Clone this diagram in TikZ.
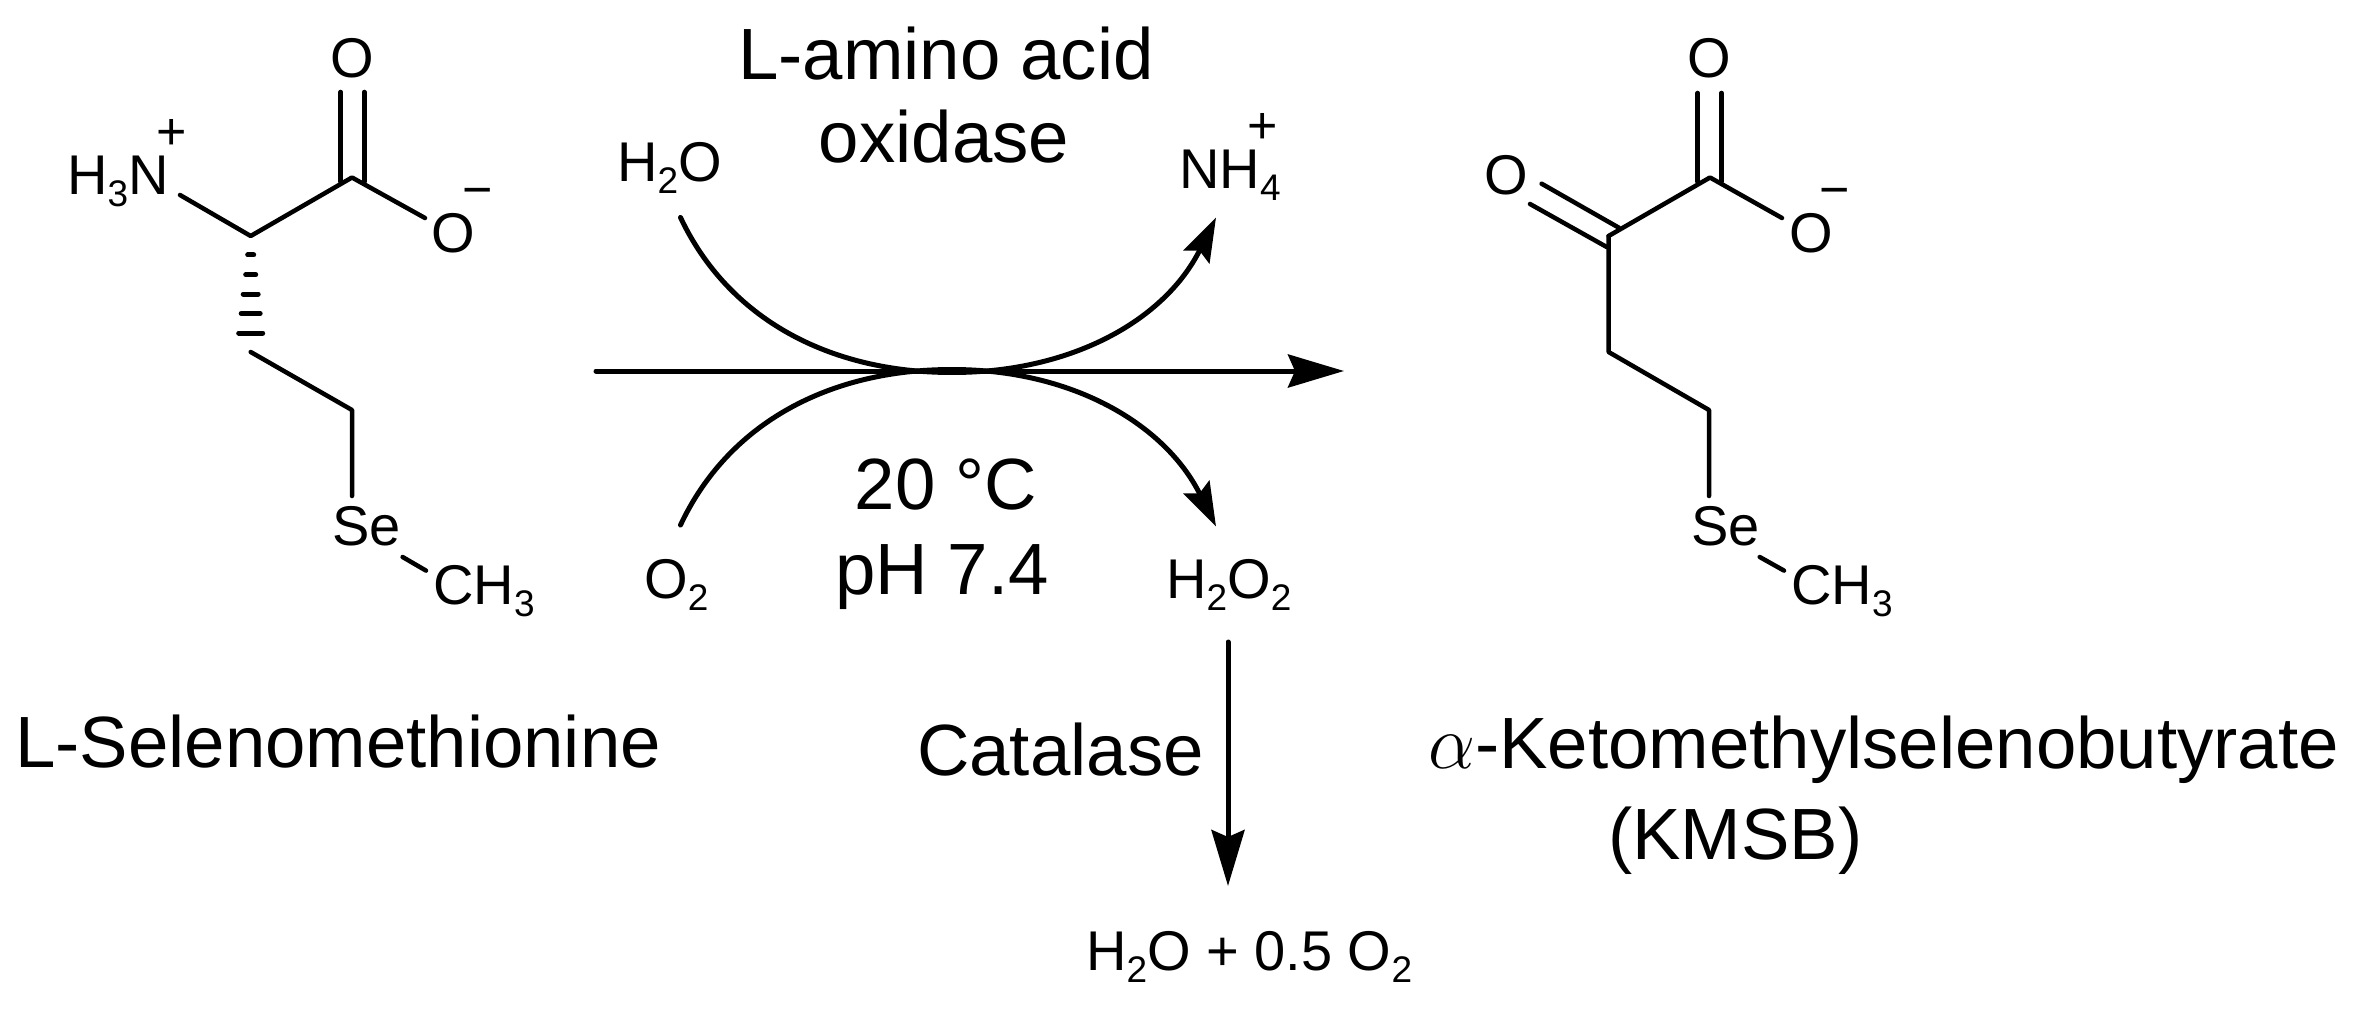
\documentclass[tikz,border=0pt]{standalone}
\usepackage{fontspec}
\setmainfont{Liberation Sans}
\usetikzlibrary{arrows.meta}
\newcommand{\sub}[1]{\raisebox{-12pt}{\fontsize{37}{37}\selectfont #1}}
\tikzset{
  x=1pt,y=-1pt,
  bond/.style={line width=4.5pt,line cap=round,line join=round,black},
  rxn/.style={line width=5pt,line cap=round,black},
  atom/.style={inner sep=0pt,anchor=base west,font=\fontsize{56}{56}\selectfont},
  charge/.style={inner sep=0pt,anchor=base west,font=\fontsize{52}{52}\selectfont},
  label/.style={inner sep=0pt,anchor=base,font=\fontsize{72.6}{72.6}\selectfont},
  smallhead/.style={-{Stealth[length=44pt,width=29pt,inset=7pt]}},
  bighead/.style={-{Stealth[length=56pt,width=33pt,inset=7pt]}}
}
\begin{document}
\begin{tikzpicture}
\useasboundingbox (0,0) rectangle (2354,1011);
\fill[white] (0,0) rectangle (2354,1011);
% left molecule
\coordinate (c1) at (352,177.5);
\coordinate (ca) at (250.7,236);
\coordinate (c3) at (250.7,352);
\coordinate (c4) at (352,410);
\coordinate (nb) at (180,195);
\coordinate (ob) at (425,218);
\coordinate (seb) at (352,496);
\coordinate (dl1) at (340.6,92); \coordinate (dl2) at (340.6,181.6);
\coordinate (dr1) at (364.3,92); \coordinate (dr2) at (364.3,181.6);
\coordinate (ch1) at (402.6,557); \coordinate (ch2) at (426,570.6);
\node[atom] (ltopO) at (330.2,77.5) {O};
\node[atom] (lN) at (67,195) {H\sub{3}N};
\node[charge] (lplus) at (156,150) {+};
\node[atom] (lO) at (431.6,253) {O};
\node[charge] (lminus) at (462,208) {−};
\node[atom] (lSe) at (332,545) {Se};
\node[atom] (lCH) at (433,604) {CH\sub{3}};
\draw[bond] (nb) -- (ca) -- (c1) -- (ob);
\draw[bond] (dl1) -- (dl2);
\draw[bond] (dr1) -- (dr2);
\draw[bond] (c3) -- (c4) -- (seb);
\draw[bond] (ch1) -- (ch2);
\foreach \yy/\ww in {255/3,274.7/5,294/7.5,313.5/9.5,333/12}
  \draw[line width=5pt,line cap=round] (250.7-\ww,\yy) -- (250.7+\ww,\yy);
% right molecule
\coordinate (r1) at (1710,177.5);
\coordinate (ra) at (1608.6,236);
\coordinate (r3) at (1608.6,352);
\coordinate (r4) at (1709,410);
\coordinate (rseb) at (1709,496);
\coordinate (rob) at (1782,218);
\coordinate (rl1) at (1697.7,93); \coordinate (rl2) at (1697.7,181.6);
\coordinate (rr1) at (1721.5,93); \coordinate (rr2) at (1721.5,181.6);
\coordinate (ru1) at (1541.6,183.7); \coordinate (ru2) at (1619,227.8);
\coordinate (rd1) at (1530,204); \coordinate (rd2) at (1606.7,247);
\coordinate (rch1) at (1759.7,557); \coordinate (rch2) at (1784,570.6);
\node[atom] (rtopO) at (1687.2,77.5) {O};
\node[atom] (rleftO) at (1484.6,195) {O};
\node[atom] (rO) at (1789.6,253) {O};
\node[charge] (rminus) at (1819.5,208) {−};
\node[atom] (rSe) at (1691,545) {Se};
\node[atom] (rCH) at (1791,604) {CH\sub{3}};
\draw[bond] (ra) -- (r1) -- (rob);
\draw[bond] (rl1) -- (rl2);
\draw[bond] (rr1) -- (rr2);
\draw[bond] (ru1) -- (ru2);
\draw[bond] (rd1) -- (rd2);
\draw[bond] (ra) -- (r3) -- (r4) -- (rseb);
\draw[bond] (rch1) -- (rch2);
% reaction
\coordinate (astart) at (596,371);
\coordinate (aend) at (1344,371);
\coordinate (mt) at (952,372.5);
\coordinate (mb) at (952,369.5);
\coordinate (wt) at (680.5,217.5);
\coordinate (ot) at (680.5,525);
\coordinate (ntip) at (1216,217.5);
\coordinate (ptip) at (1216,526.5);
\coordinate (vs) at (1228,642);
\coordinate (vt) at (1228,886);
\draw[rxn,bighead] (astart) -- (aend);
\draw[rxn] (wt) .. controls (728,318) and (828,372.5) .. (mt);
\draw[rxn] (ot) .. controls (728,424) and (828,369.5) .. (mb);
\draw[rxn,smallhead] (mt) .. controls (1072,372.5) and (1165,320) .. (ntip);
\draw[rxn,smallhead] (mb) .. controls (1072,369.5) and (1165,424) .. (ptip);
\draw[rxn,bighead] (vs) -- (vt);
\node[label] (ena) at (946,79.6) {L-amino acid};
\node[label] (enb) at (944,163) {oxidase};
\node[label] (tc) at (946,509) {20 °C};
\node[label] (ph) at (942,594) {pH 7.4};
\node[atom] (h2o) at (617,181.6) {H\sub{2}O};
\node[atom] (nh4) at (1179,188.6) {NH\sub{4}};
\node[charge] (nplus) at (1247,144) {+};
\node[atom] (o2) at (644,598) {O\sub{2}};
\node[atom] (h2o2) at (1166,598) {H\sub{2}O\sub{2}};
\node[label,anchor=base west] (cat) at (917,775) {Catalase};
\node[atom] (prod) at (1086,970) {H\sub{2}O + 0.5 O\sub{2}};
\node[label,anchor=base west] (lname) at (15,767) {L-Selenomethionine};
\node[label,anchor=base west] (kname) at (1428,768) {\scalebox{3.0}[3.1]{$\alpha$}-Ketomethylselenobutyrate};
\node[label,anchor=base west] (kmsb) at (1608,859) {(KMSB)};
\end{tikzpicture}
\end{document}
